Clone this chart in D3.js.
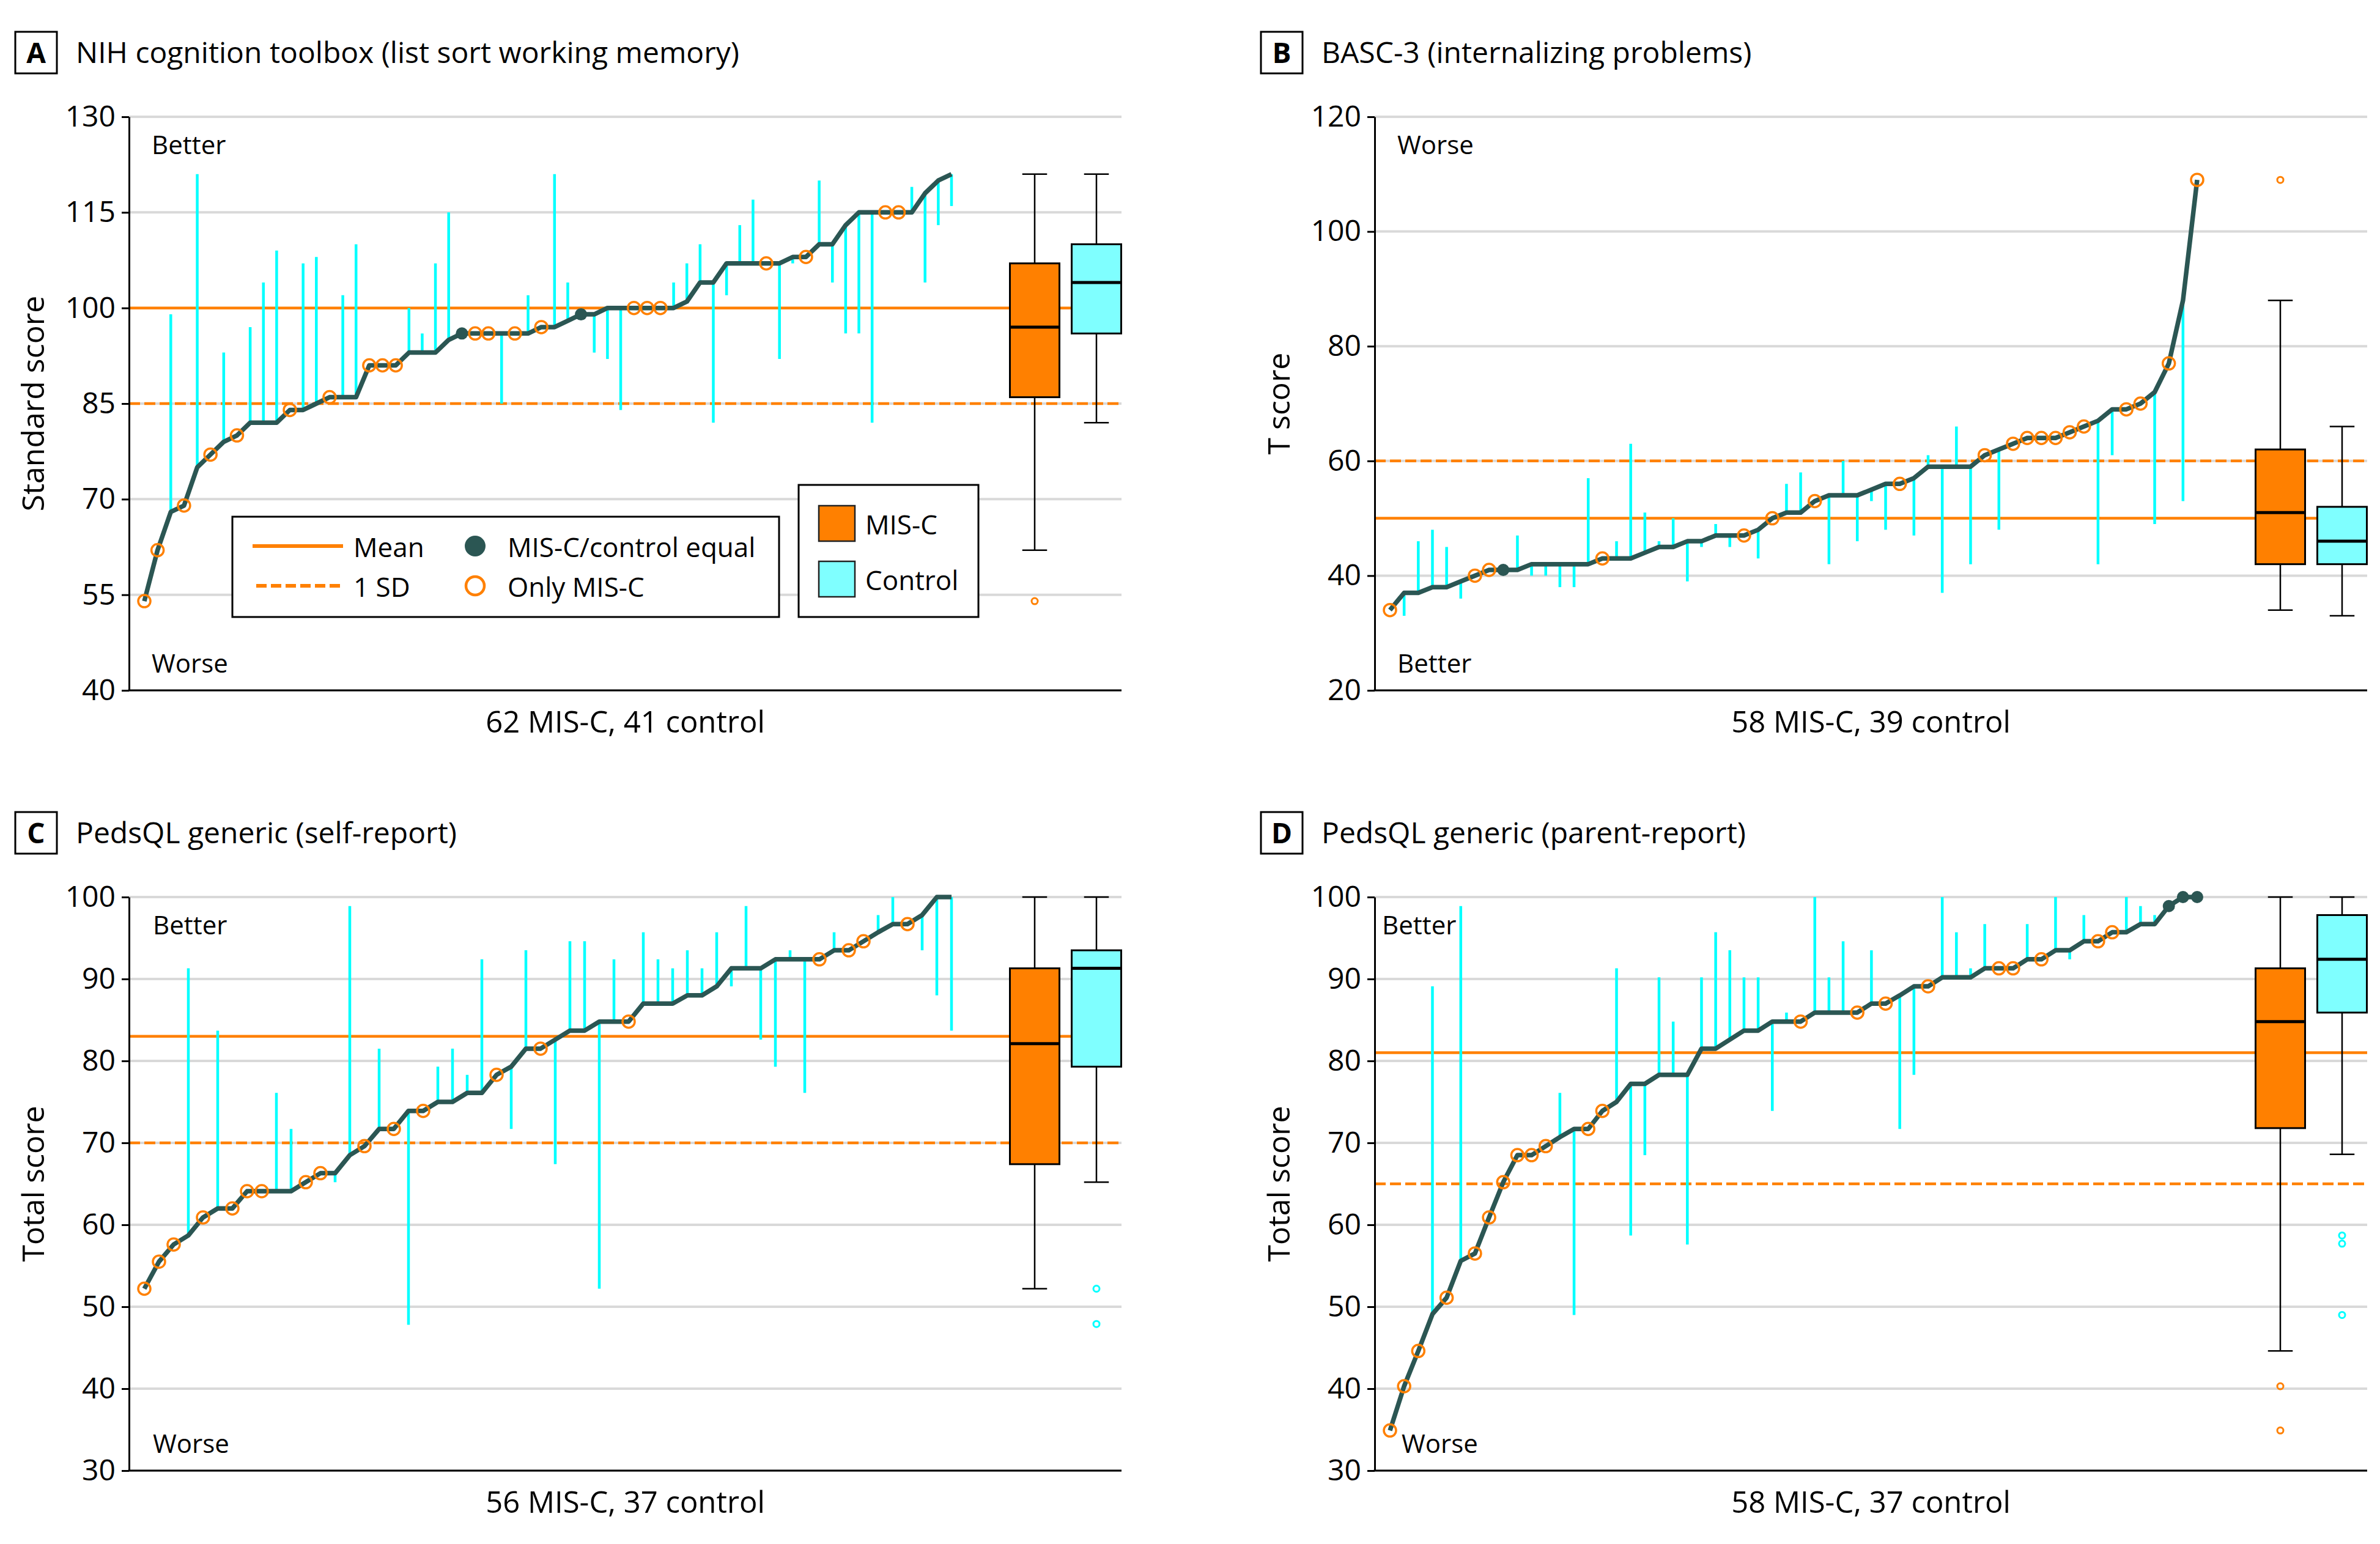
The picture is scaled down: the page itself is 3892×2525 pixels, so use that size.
<!DOCTYPE html>
<html><head><meta charset="utf-8">
<script src="https://cdn.jsdelivr.net/npm/d3@7"></script>
<style>body{margin:0;background:#fff} svg{display:block}</style>
</head><body>
<svg id="chart" width="3892" height="2525"></svg>
<script>
// ---------------- DATA ----------------
// Panel A
const aTitle = "NIH cognition toolbox (list sort working memory)";
const aYLabel = "Standard score";
const aXLabel = "62 MIS-C, 41 control";
const aCorner = ["Better", "Worse"];
const aTicks = [40, 55, 70, 85, 100, 115, 130];
const aRef = [100, 85]; // mean, 1 SD
const aMisc = [54,62,68,69,75,77,79,80,82,82,82,84,84,85,86,86,86,91,91,91,93,93,93,95,96,96,96,96,96,96,97,97,98,99,99,100,100,100,100,100,100,101,104,104,107,107,107,107,107,108,108,110,110,113,115,115,115,115,115,118,120,121];
const aCtrl = [null,null,99,null,121,null,93,null,97,104,109,null,107,108,null,102,110,null,null,null,100,96,107,115,96,null,null,85,null,102,null,121,104,99,93,92,84,null,null,null,104,107,110,82,102,113,117,null,92,107,null,120,104,96,96,82,null,null,119,104,113,116];
const aBoxMisc = [62, 86, 97, 107, 121];
const aBoxCtrl = [82, 96, 104, 110, 121];
const aOutMisc = [54];
const aOutCtrl = [];

// Panel B
const bTitle = "BASC-3 (internalizing problems)";
const bYLabel = "T score";
const bXLabel = "58 MIS-C, 39 control";
const bCorner = ["Worse", "Better"];
const bTicks = [20, 40, 60, 80, 100, 120];
const bRef = [50, 60];
const bMisc = [34,37,37,38,38,39,40,41,41,41,42,42,42,42,42,43,43,43,44,45,45,46,46,47,47,47,48,50,51,51,53,54,54,54,55,56,56,57,59,59,59,59,61,62,63,64,64,64,65,66,67,69,69,70,72,77,88,109];
const bCtrl = [null,33,46,48,45,36,null,null,41,47,40,40,38,38,57,null,46,63,51,46,50,39,45,49,45,null,43,null,56,58,null,42,60,46,53,48,null,47,61,37,66,42,null,48,null,null,null,null,null,null,42,61,null,null,49,null,53,null];
const bBoxMisc = [34, 42, 51, 62, 88];
const bBoxCtrl = [33, 42, 46, 52, 66];
const bOutMisc = [109];
const bOutCtrl = [];

// Panel C
const cTitle = "PedsQL generic (self-report)";
const cYLabel = "Total score";
const cXLabel = "56 MIS-C, 37 control";
const cCorner = ["Better", "Worse"];
const cTicks = [30, 40, 50, 60, 70, 80, 90, 100];
const cRef = [83, 70];
const cMisc = [52.2,55.5,57.6,58.7,60.9,62.0,62.0,64.1,64.1,64.1,64.1,65.2,66.3,66.3,68.5,69.6,71.7,71.7,73.9,73.9,75.0,75.0,76.1,76.1,78.3,79.3,81.5,81.5,82.6,83.7,83.7,84.8,84.8,84.8,87.0,87.0,87.0,88.0,88.0,89.1,91.3,91.3,91.3,92.4,92.4,92.4,92.4,93.5,93.5,94.6,95.7,96.7,96.7,97.8,100,100];
const cCtrl = [null,null,null,91.3,null,83.7,null,null,null,76.1,71.7,null,null,65.2,98.9,null,81.5,null,47.8,null,79.3,81.5,78.3,92.4,null,71.7,93.5,null,67.4,94.6,94.6,52.2,92.4,null,95.7,92.4,91.3,93.5,91.3,95.7,89.1,98.9,82.6,79.3,93.5,76.1,null,95.7,null,null,97.8,100,null,93.5,88.0,83.7];
const cBoxMisc = [52.2, 67.4, 82.1, 91.3, 100];
const cBoxCtrl = [65.2, 79.3, 91.3, 93.5, 100];
const cOutMisc = [];
const cOutCtrl = [52.2, 47.9];

// Panel D
const dTitle = "PedsQL generic (parent-report)";
const dYLabel = "Total score";
const dXLabel = "58 MIS-C, 37 control";
const dCorner = ["Better", "Worse"];
const dTicks = [30, 40, 50, 60, 70, 80, 90, 100];
const dRef = [81, 65];
const dMisc = [34.9,40.3,44.6,49.1,51.1,55.6,56.5,60.9,65.2,68.5,68.5,69.6,70.7,71.7,71.7,73.9,75.0,77.2,77.2,78.3,78.3,78.3,81.5,81.5,82.6,83.7,83.7,84.8,84.8,84.8,85.9,85.9,85.9,85.9,87.0,87.0,88.0,89.1,89.1,90.2,90.2,90.2,91.3,91.3,91.3,92.4,92.4,93.5,93.5,94.6,94.6,95.7,95.7,96.7,96.7,98.9,100,100];
const dCtrl = [null,null,null,89.1,null,98.9,null,null,null,null,null,null,76.1,49.0,null,null,91.3,58.7,68.5,90.2,84.8,57.6,90.2,95.7,93.5,90.2,90.2,73.9,85.9,null,100,90.2,94.6,null,93.5,null,71.7,78.3,null,100,95.7,91.3,96.7,null,null,96.7,null,100,92.4,97.8,null,null,100,98.9,97.8,98.9,100,100];
const dBoxMisc = [44.6, 71.8, 84.8, 91.3, 100];
const dBoxCtrl = [68.6, 85.9, 92.4, 97.8, 100];
const dOutMisc = [40.3, 34.9];
const dOutCtrl = [58.7, 57.7, 49.0];

const boxGroups = ["MIS-C", "Control"];
const legendLines = ["Mean", "1 SD"];
const legendPoints = ["MIS-C/control equal", "Only MIS-C"];

// ---------------- LAYOUT / STYLE ----------------
const FONT = "'Open Sans', 'Noto Sans', sans-serif";
const ORANGE = "#ff8000", CYAN = "#00ffff", CYAN_BOX = "#7fffff", DARK = "#2b5653", GRID = "#d9d9d9";
const L = 211, R = 1834, T = 191, B = 1129;
const X0 = 236, X1 = 1556;
const BOX_POS = [1692, 1793], BOX_W = 81;

const panels = [
  {id:"A", ox:0, oy:0, title:aTitle, yl:aYLabel, xl:aXLabel, corner:aCorner, ticks:aTicks, ref:aRef, misc:aMisc, ctrl:aCtrl, boxM:aBoxMisc, boxC:aBoxCtrl, outM:aOutMisc, outC:aOutCtrl, cx:[248,248], legend:true},
  {id:"B", ox:2037, oy:0, title:bTitle, yl:bYLabel, xl:bXLabel, corner:bCorner, ticks:bTicks, ref:bRef, misc:bMisc, ctrl:bCtrl, boxM:bBoxMisc, boxC:bBoxCtrl, outM:bOutMisc, outC:bOutCtrl, cx:[248,248]},
  {id:"C", ox:0, oy:1276, title:cTitle, yl:cYLabel, xl:cXLabel, corner:cCorner, ticks:cTicks, ref:cRef, misc:cMisc, ctrl:cCtrl, boxM:cBoxMisc, boxC:cBoxCtrl, outM:cOutMisc, outC:cOutCtrl, cx:[250,250]},
  {id:"D", ox:2037, oy:1276, title:dTitle, yl:dYLabel, xl:dXLabel, corner:dCorner, ticks:dTicks, ref:dRef, misc:dMisc, ctrl:dCtrl, boxM:dBoxMisc, boxC:dBoxCtrl, outM:dOutMisc, outC:dOutCtrl, cx:[223,255]}
];

const svg = d3.select("#chart").style("font-family", FONT);
svg.append("rect").attr("width", 3892).attr("height", 2525).attr("fill", "#fff");

panels.forEach(p => {
  const g = svg.append("g").attr("transform", `translate(${p.ox},${p.oy})`);
  const y = d3.scaleLinear().domain(d3.extent(p.ticks)).range([B, T]);
  const x = d3.scaleLinear().domain([0, p.misc.length - 1]).range([X0, X1]);
  const bx = d3.scalePoint().domain(boxGroups).range(BOX_POS);

  // gridlines
  g.append("g").selectAll("line").data(p.ticks).join("line")
    .attr("x1", L).attr("x2", R).attr("y1", d => y(d)).attr("y2", d => y(d))
    .attr("stroke", GRID).attr("stroke-width", 4);

  // reference lines
  g.append("line").attr("x1", L).attr("x2", R).attr("y1", y(p.ref[0])).attr("y2", y(p.ref[0]))
    .attr("stroke", ORANGE).attr("stroke-width", 4.5);
  g.append("line").attr("x1", L).attr("x2", R).attr("y1", y(p.ref[1])).attr("y2", y(p.ref[1]))
    .attr("stroke", ORANGE).attr("stroke-width", 4.5).attr("stroke-dasharray", "18,7");

  const pts = p.misc.map((v, i) => ({i, v, c: p.ctrl[i]}));

  // control segments
  g.append("g").selectAll("line").data(pts.filter(d => d.c != null && d.c !== d.v)).join("line")
    .attr("x1", d => x(d.i)).attr("x2", d => x(d.i))
    .attr("y1", d => y(d.v)).attr("y2", d => y(d.c))
    .attr("stroke", CYAN).attr("stroke-width", 4.5);

  // MIS-C line
  g.append("path").datum(pts)
    .attr("d", d3.line().x(d => x(d.i)).y(d => y(d.v)))
    .attr("fill", "none").attr("stroke", DARK).attr("stroke-width", 7.5).attr("stroke-linejoin", "round");

  // equal points
  g.append("g").selectAll("circle").data(pts.filter(d => d.c != null && d.c === d.v)).join("circle")
    .attr("cx", d => x(d.i)).attr("cy", d => y(d.v)).attr("r", 10).attr("fill", DARK);

  // only MIS-C points
  g.append("g").selectAll("circle").data(pts.filter(d => d.c == null)).join("circle")
    .attr("cx", d => x(d.i)).attr("cy", d => y(d.v)).attr("r", 10)
    .attr("fill", "none").attr("stroke", ORANGE).attr("stroke-width", 3.5);

  // box plots
  const boxes = [
    {k: "MIS-C", s: p.boxM, out: p.outM, fill: ORANGE, oc: ORANGE},
    {k: "Control", s: p.boxC, out: p.outC, fill: CYAN_BOX, oc: CYAN}
  ];
  boxes.forEach(bd => {
    const cx = bx(bd.k), s = bd.s;
    const bg = g.append("g");
    bg.append("line").attr("x1", cx).attr("x2", cx).attr("y1", y(s[0])).attr("y2", y(s[4]))
      .attr("stroke", "#000").attr("stroke-width", 2.5);
    [s[0], s[4]].forEach(v => bg.append("line")
      .attr("x1", cx - BOX_W / 4).attr("x2", cx + BOX_W / 4).attr("y1", y(v)).attr("y2", y(v))
      .attr("stroke", "#000").attr("stroke-width", 2.5));
    bg.append("rect").attr("x", cx - BOX_W / 2).attr("width", BOX_W)
      .attr("y", y(s[3])).attr("height", y(s[1]) - y(s[3]))
      .attr("fill", bd.fill).attr("stroke", "#000").attr("stroke-width", 3);
    bg.append("line").attr("x1", cx - BOX_W / 2).attr("x2", cx + BOX_W / 2).attr("y1", y(s[2])).attr("y2", y(s[2]))
      .attr("stroke", "#000").attr("stroke-width", 5);
    bg.selectAll("circle.o").data(bd.out).join("circle")
      .attr("cx", cx).attr("cy", d => y(d)).attr("r", 5)
      .attr("fill", "none").attr("stroke", bd.oc).attr("stroke-width", 3);
  });

  // axes
  const ax = g.append("g").attr("transform", `translate(${L},0)`)
    .call(d3.axisLeft(y).tickValues(p.ticks).tickSize(12).tickSizeOuter(0).tickPadding(10));
  ax.select(".domain").attr("stroke", "#000").attr("stroke-width", 3);
  ax.selectAll(".tick line").attr("stroke", "#000").attr("stroke-width", 3);
  ax.selectAll(".tick text").attr("font-size", 48).attr("font-family", FONT).attr("fill", "#000");
  g.append("line").attr("x1", L - 1.5).attr("x2", R).attr("y1", B).attr("y2", B)
    .attr("stroke", "#000").attr("stroke-width", 3);

  // corner labels
  g.append("text").attr("x", p.cx[0]).attr("y", 252).attr("font-size", 42).text(p.corner[0]);
  g.append("text").attr("x", p.cx[1]).attr("y", 1100).attr("font-size", 42).text(p.corner[1]);

  // axis labels
  g.append("text").attr("x", (L + R) / 2).attr("y", 1198).attr("text-anchor", "middle")
    .attr("font-size", 49).text(p.xl);
  g.append("text").attr("transform", `translate(72,${(T + B) / 2}) rotate(-90)`)
    .attr("text-anchor", "middle").attr("font-size", 50).text(p.yl);

  // title
  g.append("rect").attr("x", 25).attr("y", 52).attr("width", 68).attr("height", 68)
    .attr("fill", "#fff").attr("stroke", "#000").attr("stroke-width", 3);
  g.append("text").attr("x", 59).attr("y", 103).attr("text-anchor", "middle")
    .attr("font-size", 46).attr("font-weight", "bold").text(p.id);
  g.append("text").attr("x", 124).attr("y", 103).attr("font-size", 48).text(p.title);

  // legend
  if (p.legend) {
    const lg = g.append("g");
    lg.append("rect").attr("x", 380).attr("y", 845).attr("width", 894).attr("height", 164)
      .attr("fill", "#fff").attr("stroke", "#000").attr("stroke-width", 3);
    const rowsY = [893, 958];
    lg.append("line").attr("x1", 413).attr("x2", 561).attr("y1", rowsY[0]).attr("y2", rowsY[0])
      .attr("stroke", ORANGE).attr("stroke-width", 6);
    lg.append("line").attr("x1", 419).attr("x2", 561).attr("y1", rowsY[1]).attr("y2", rowsY[1])
      .attr("stroke", ORANGE).attr("stroke-width", 6).attr("stroke-dasharray", "17,7");
    legendLines.forEach((t, i) => lg.append("text").attr("x", 578).attr("y", rowsY[i] + 18)
      .attr("font-size", 44).text(t));
    lg.append("circle").attr("cx", 777).attr("cy", rowsY[0]).attr("r", 17).attr("fill", DARK);
    lg.append("circle").attr("cx", 777).attr("cy", rowsY[1]).attr("r", 15)
      .attr("fill", "none").attr("stroke", ORANGE).attr("stroke-width", 4.5);
    legendPoints.forEach((t, i) => lg.append("text").attr("x", 830).attr("y", rowsY[i] + 18)
      .attr("font-size", 44).text(t));

    const lg2 = g.append("g");
    lg2.append("rect").attr("x", 1306).attr("y", 793).attr("width", 294).attr("height", 216)
      .attr("fill", "#fff").attr("stroke", "#000").attr("stroke-width", 3);
    const sq = [{y: 827, f: ORANGE}, {y: 918, f: CYAN_BOX}];
    sq.forEach((s, i) => {
      lg2.append("rect").attr("x", 1339).attr("y", s.y).attr("width", 59).attr("height", 58)
        .attr("fill", s.f).attr("stroke", "#222").attr("stroke-width", 2.5);
      lg2.append("text").attr("x", 1415).attr("y", s.y + 47).attr("font-size", 44).text(boxGroups[i]);
    });
  }
});
</script>
</body></html>
